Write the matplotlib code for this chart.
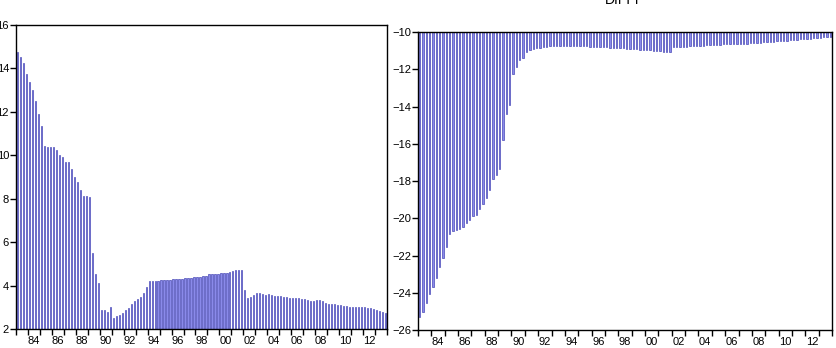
import numpy as np
import matplotlib.pyplot as plt
from matplotlib.ticker import FixedLocator, FixedFormatter

plt.rcParams['font.family'] = ['Liberation Sans', 'DejaVu Sans']

# quarterly, 1983Q1 - 2013Q4
start_year = 1983
end_year = 2014

# left panel (no title)
left_vals = [
    14.77, 14.54, 14.26, 13.74, 13.37, 13.00, 12.51, 11.90, 11.35, 10.44,
    10.40, 10.38, 10.38, 10.24, 10.00, 9.90, 9.67, 9.67, 9.35, 9.00,
    8.75, 8.38, 8.14, 8.11, 8.06, 5.52, 4.54, 4.14, 2.88, 2.88,
    2.78, 3.03, 2.52, 2.60, 2.65, 2.72, 2.88, 2.95, 3.14, 3.29,
    3.37, 3.49, 3.68, 3.92, 4.22, 4.22, 4.22, 4.23, 4.24, 4.25,
    4.26, 4.27, 4.29, 4.30, 4.31, 4.32, 4.33, 4.35, 4.37, 4.38,
    4.40, 4.41, 4.42, 4.42, 4.54, 4.55, 4.55, 4.55, 4.56, 4.58,
    4.60, 4.63, 4.66, 4.72, 4.72, 4.72, 3.80, 3.45, 3.49, 3.57,
    3.65, 3.65, 3.60, 3.57, 3.60, 3.55, 3.52, 3.52, 3.52, 3.49,
    3.47, 3.45, 3.45, 3.42, 3.42, 3.40, 3.37, 3.34, 3.29, 3.29,
    3.34, 3.34, 3.29, 3.18, 3.14, 3.14, 3.14, 3.12, 3.11, 3.08,
    3.05, 3.03, 3.03, 3.03, 3.03, 3.03, 3.00, 2.97, 2.95, 2.91,
    2.88, 2.85, 2.80, 2.72,
]

# right panel: DIFFP
diffp_vals = [
    -25.29, -25.02, -24.57, -24.09, -23.68, -23.20, -22.60, -22.16, -21.54, -20.82,
    -20.70, -20.64, -20.59, -20.46, -20.25, -20.10, -19.89, -19.80, -19.48, -19.21,
    -18.89, -18.46, -17.90, -17.68, -17.38, -15.80, -14.38, -13.93, -12.23, -11.88,
    -11.48, -11.38, -11.07, -10.95, -10.89, -10.86, -10.84, -10.81, -10.78, -10.77,
    -10.76, -10.76, -10.75, -10.75, -10.74, -10.74, -10.74, -10.75, -10.76, -10.77,
    -10.77, -10.78, -10.79, -10.80, -10.81, -10.82, -10.83, -10.84, -10.85, -10.86,
    -10.87, -10.88, -10.89, -10.90, -10.91, -10.93, -10.95, -10.96, -10.98, -10.99,
    -11.00, -11.02, -11.03, -11.05, -11.07, -11.05, -10.82, -10.80, -10.79, -10.78,
    -10.78, -10.77, -10.76, -10.75, -10.74, -10.73, -10.72, -10.71, -10.70, -10.69,
    -10.68, -10.67, -10.66, -10.65, -10.64, -10.63, -10.62, -10.62, -10.63, -10.60,
    -10.58, -10.57, -10.60, -10.55, -10.53, -10.52, -10.51, -10.50, -10.48, -10.47,
    -10.46, -10.45, -10.44, -10.42, -10.40, -10.39, -10.38, -10.36, -10.34, -10.32,
    -10.30, -10.29, -10.27, -10.25,
]

year_labels = ['84', '86', '88', '90', '92', '94', '96', '98',
               '00', '02', '04', '06', '08', '10', '12']

face = '#8a8aea'
edge = '#2a2aa8'


def year_axis(ax):
    years = np.arange(start_year, end_year + 1)
    ax.xaxis.set_major_locator(FixedLocator(years))
    ax.xaxis.set_major_formatter(FixedFormatter([''] * len(years)))
    mids = [1984.5 + 2 * k for k in range(len(year_labels))]
    ax.xaxis.set_minor_locator(FixedLocator(mids))
    ax.xaxis.set_minor_formatter(FixedFormatter(year_labels))
    ax.tick_params(axis='x', which='major', direction='out', length=4, width=1)
    ax.tick_params(axis='x', which='minor', length=0, pad=5, labelsize=8)
    ax.tick_params(axis='y', direction='out', length=4, width=1, pad=1, labelsize=8)
    ax.set_xlim(start_year, end_year)
    for s in ax.spines.values():
        s.set_linewidth(1)


fig = plt.figure(figsize=(8.36, 3.48), dpi=100)

x = start_year + (np.arange(len(left_vals)) + 0.5) / 4.0

ax1 = fig.add_axes([0.0191, 0.0546, 0.4438, 0.8736])
ax1.bar(x, np.array(left_vals) - 2, bottom=2, width=0.1,
        color=face, edgecolor=edge, linewidth=0.4)
ax1.set_ylim(2, 16)
ax1.set_yticks(np.arange(2, 17, 2))
year_axis(ax1)

x2 = start_year + (np.arange(len(diffp_vals)) + 0.5) / 4.0
ax2 = fig.add_axes([0.5, 0.0517, 0.4952, 0.8563])
ax2.bar(x2, np.array(diffp_vals) + 10, bottom=-10, width=0.1,
        color=face, edgecolor=edge, linewidth=0.4)
ax2.set_ylim(-26, -10)
ax2.set_yticks(np.arange(-26, -9, 2))
year_axis(ax2)

fig.text(0.7476, 1 - 4 / 348, 'DIFFP', ha='center', va='baseline', fontsize=10)

fig.savefig('out.png', dpi=100)
